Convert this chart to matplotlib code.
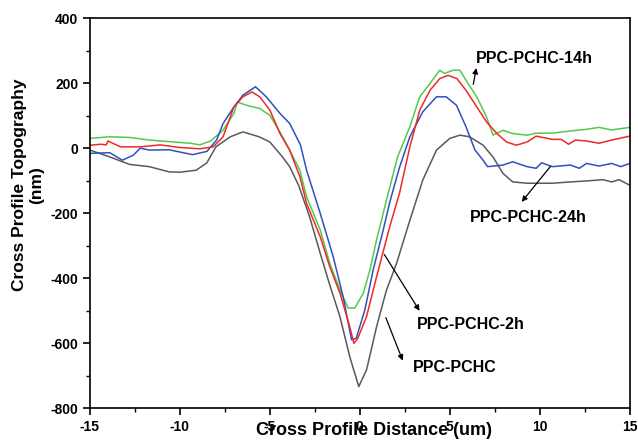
import matplotlib
matplotlib.use("Agg")
import matplotlib.pyplot as plt
from matplotlib.ticker import MultipleLocator

plt.rcParams['font.family'] = ['Liberation Sans', 'DejaVu Sans']
plt.rcParams['font.weight'] = 'bold'
plt.rcParams['axes.unicode_minus'] = False

# PPC-PCHC (gray)
x_pchc = [-15, -13.9, -12.8, -11.7, -10.6, -10, -9.1, -8.5, -8.0, -7.2, -6.5, -5.6, -5.0,
          -4.3, -3.9, -3.4, -2.8, -2.2, -1.7, -1.1, -0.56, -0.06, 0.37, 0.93, 1.48, 2.04,
          2.78, 3.5, 4.26, 5.0, 5.56, 6.1, 6.85, 7.4, 7.96, 8.5, 9.3, 10.0, 10.7, 11.7,
          12.6, 13.5, 14.0, 14.4, 15.0]
y_pchc = [-6, -27, -50, -57, -73, -74, -68, -45, 4, 35, 50, 35, 19,
          -27, -57, -115, -210, -324, -416, -520, -642, -734, -683, -550, -437, -355,
          -222, -98, -6, 30, 40, 35, 9, -27, -78, -104, -108, -108, -108, -104,
          -101, -97, -104, -97, -114]

# PPC-PCHC-14h (green)
x_14h = [-15, -13.9, -12.8, -11.7, -10.6, -9.4, -8.9, -8.3, -7.6, -7.0, -6.8, -6.3, -5.56,
         -5.0, -4.44, -3.9, -3.33, -2.96, -2.2, -1.67, -1.1, -0.65, -0.28, 0.19, 0.56, 0.93,
         1.48, 2.1, 2.78, 3.33, 3.9, 4.44, 4.7, 5.2, 5.56, 5.9, 6.5, 7.04, 7.4, 7.96, 8.5,
         9.3, 9.8, 10.7, 11.7, 12.6, 13.3, 14.0, 15.0]
y_14h = [30, 35, 33, 25, 20, 15, 10, 22, 55, 107, 142, 132, 122,
         101, 50, -6, -68, -150, -252, -355, -437, -492, -492, -447, -375, -283,
         -160, -27, 66, 158, 199, 240, 230, 240, 240, 209, 158, 96, 40, 55, 45,
         40, 46, 46, 53, 58, 64, 56, 64]

# PPC-PCHC-2h (red)
x_2h = [-15, -14.4, -14.1, -14.0, -13.3, -12.2, -11.1, -10, -8.9, -8.15, -7.6, -7.0, -6.5,
        -6.0, -5.56, -5.0, -4.44, -3.9, -3.33, -2.96, -2.2, -1.67, -1.1, -0.56, -0.33, -0.11,
        0.37, 0.93, 1.67, 2.2, 2.78, 3.33, 3.9, 4.44, 4.9, 5.4, 5.9, 6.5, 7.04, 7.6, 8.15,
        8.7, 9.3, 9.8, 10.7, 11.2, 11.6, 12.0, 12.6, 13.3, 14.0, 15.0]
y_2h = [9, 12, 10, 22, 4, 4, 10, 2, -2, 4, 35, 127, 158,
        173, 158, 117, 45, -6, -88, -170, -273, -365, -447, -550, -601, -585,
        -519, -396, -240, -140, 4, 117, 178, 214, 224, 214, 178, 127, 81, 46, 19,
        9, 19, 37, 27, 27, 12, 25, 22, 15, 25, 37]

# PPC-PCHC-24h (blue)
x_24h = [-15, -13.9, -13.2, -12.6, -12.2, -11.7, -10.6, -10, -9.3, -8.5, -7.96, -7.6, -7.0,
         -6.5, -5.8, -5.2, -4.44, -3.9, -3.3, -2.96, -2.2, -1.48, -0.93, -0.46, -0.2, 0.28,
         0.74, 1.3, 1.67, 2.2, 2.78, 3.5, 4.26, 4.8, 5.37, 5.9, 6.4, 6.85, 7.1, 7.96, 8.5,
         9.3, 9.8, 10.1, 10.7, 11.7, 12.2, 12.6, 13.3, 14.0, 14.5, 15.0]
y_24h = [-16, -14, -37, -22, 0, -6, -5, -12, -20, -10, 25, 76, 127,
         163, 189, 158, 107, 76, 10, -68, -201, -334, -457, -590, -585, -498,
         -375, -252, -165, -60, 35, 112, 158, 158, 132, 66, -6, -37, -57, -52, -42,
         -57, -62, -45, -57, -52, -62, -47, -55, -47, -57, -47]

fig = plt.figure(figsize=(6.38, 4.44), dpi=100)
ax = fig.add_axes([0.141, 0.081, 0.846, 0.878])

ax.plot(x_pchc, y_pchc, color='#5a5a5a', lw=1.1)
ax.plot(x_14h, y_14h, color='#55c94a', lw=1.1)
ax.plot(x_24h, y_24h, color='#3050c0', lw=1.1)
ax.plot(x_2h, y_2h, color='#f02828', lw=1.1)

ax.set_xlim(-15, 15)
ax.set_ylim(-800, 400)
ax.xaxis.set_major_locator(MultipleLocator(5))
ax.xaxis.set_minor_locator(MultipleLocator(2.5))
ax.yaxis.set_major_locator(MultipleLocator(200))
ax.yaxis.set_minor_locator(MultipleLocator(100))
ax.tick_params(which='both', direction='out', top=False, right=False, labelsize=10)
ax.tick_params(which='major', length=5, width=1.2)
ax.tick_params(which='minor', length=3, width=1.0)
for s in ax.spines.values():
    s.set_linewidth(1.2)
for lab in ax.get_xticklabels() + ax.get_yticklabels():
    lab.set_fontweight('bold')

# label sits low and overlaps the tick labels, as in the original figure
ax.set_xlabel('Cross Profile Distance (um)', fontsize=13, fontweight='bold')
ax.xaxis.set_label_coords(0.526, -0.058)
ax.xaxis.label.set_va('center')
fig.text(0.044, 0.583, 'Cross Profile Topography\n(nm)', rotation=90,
         ha='center', va='center', multialignment='center',
         fontsize=12.5, fontweight='bold')

arrow = dict(arrowstyle='-|>', color='black', lw=0.9, mutation_scale=8)
ax.annotate('', xy=(6.5, 255), xytext=(6.28, 188), arrowprops=arrow)
ax.text(6.44, 277, 'PPC-PCHC-14h', fontsize=11.5, fontweight='bold', va='center')
ax.annotate('', xy=(8.9, -172), xytext=(10.7, -49), arrowprops=arrow)
ax.text(6.1, -215, 'PPC-PCHC-24h', fontsize=11.5, fontweight='bold', va='center')
ax.annotate('', xy=(3.4, -508), xytext=(1.28, -320), arrowprops=arrow)
ax.text(3.17, -542, 'PPC-PCHC-2h', fontsize=11.5, fontweight='bold', va='center')
ax.annotate('', xy=(2.44, -662), xytext=(1.39, -514), arrowprops=arrow)
ax.text(2.94, -674, 'PPC-PCHC', fontsize=11.5, fontweight='bold', va='center')

fig.savefig('out.png', dpi=100)
